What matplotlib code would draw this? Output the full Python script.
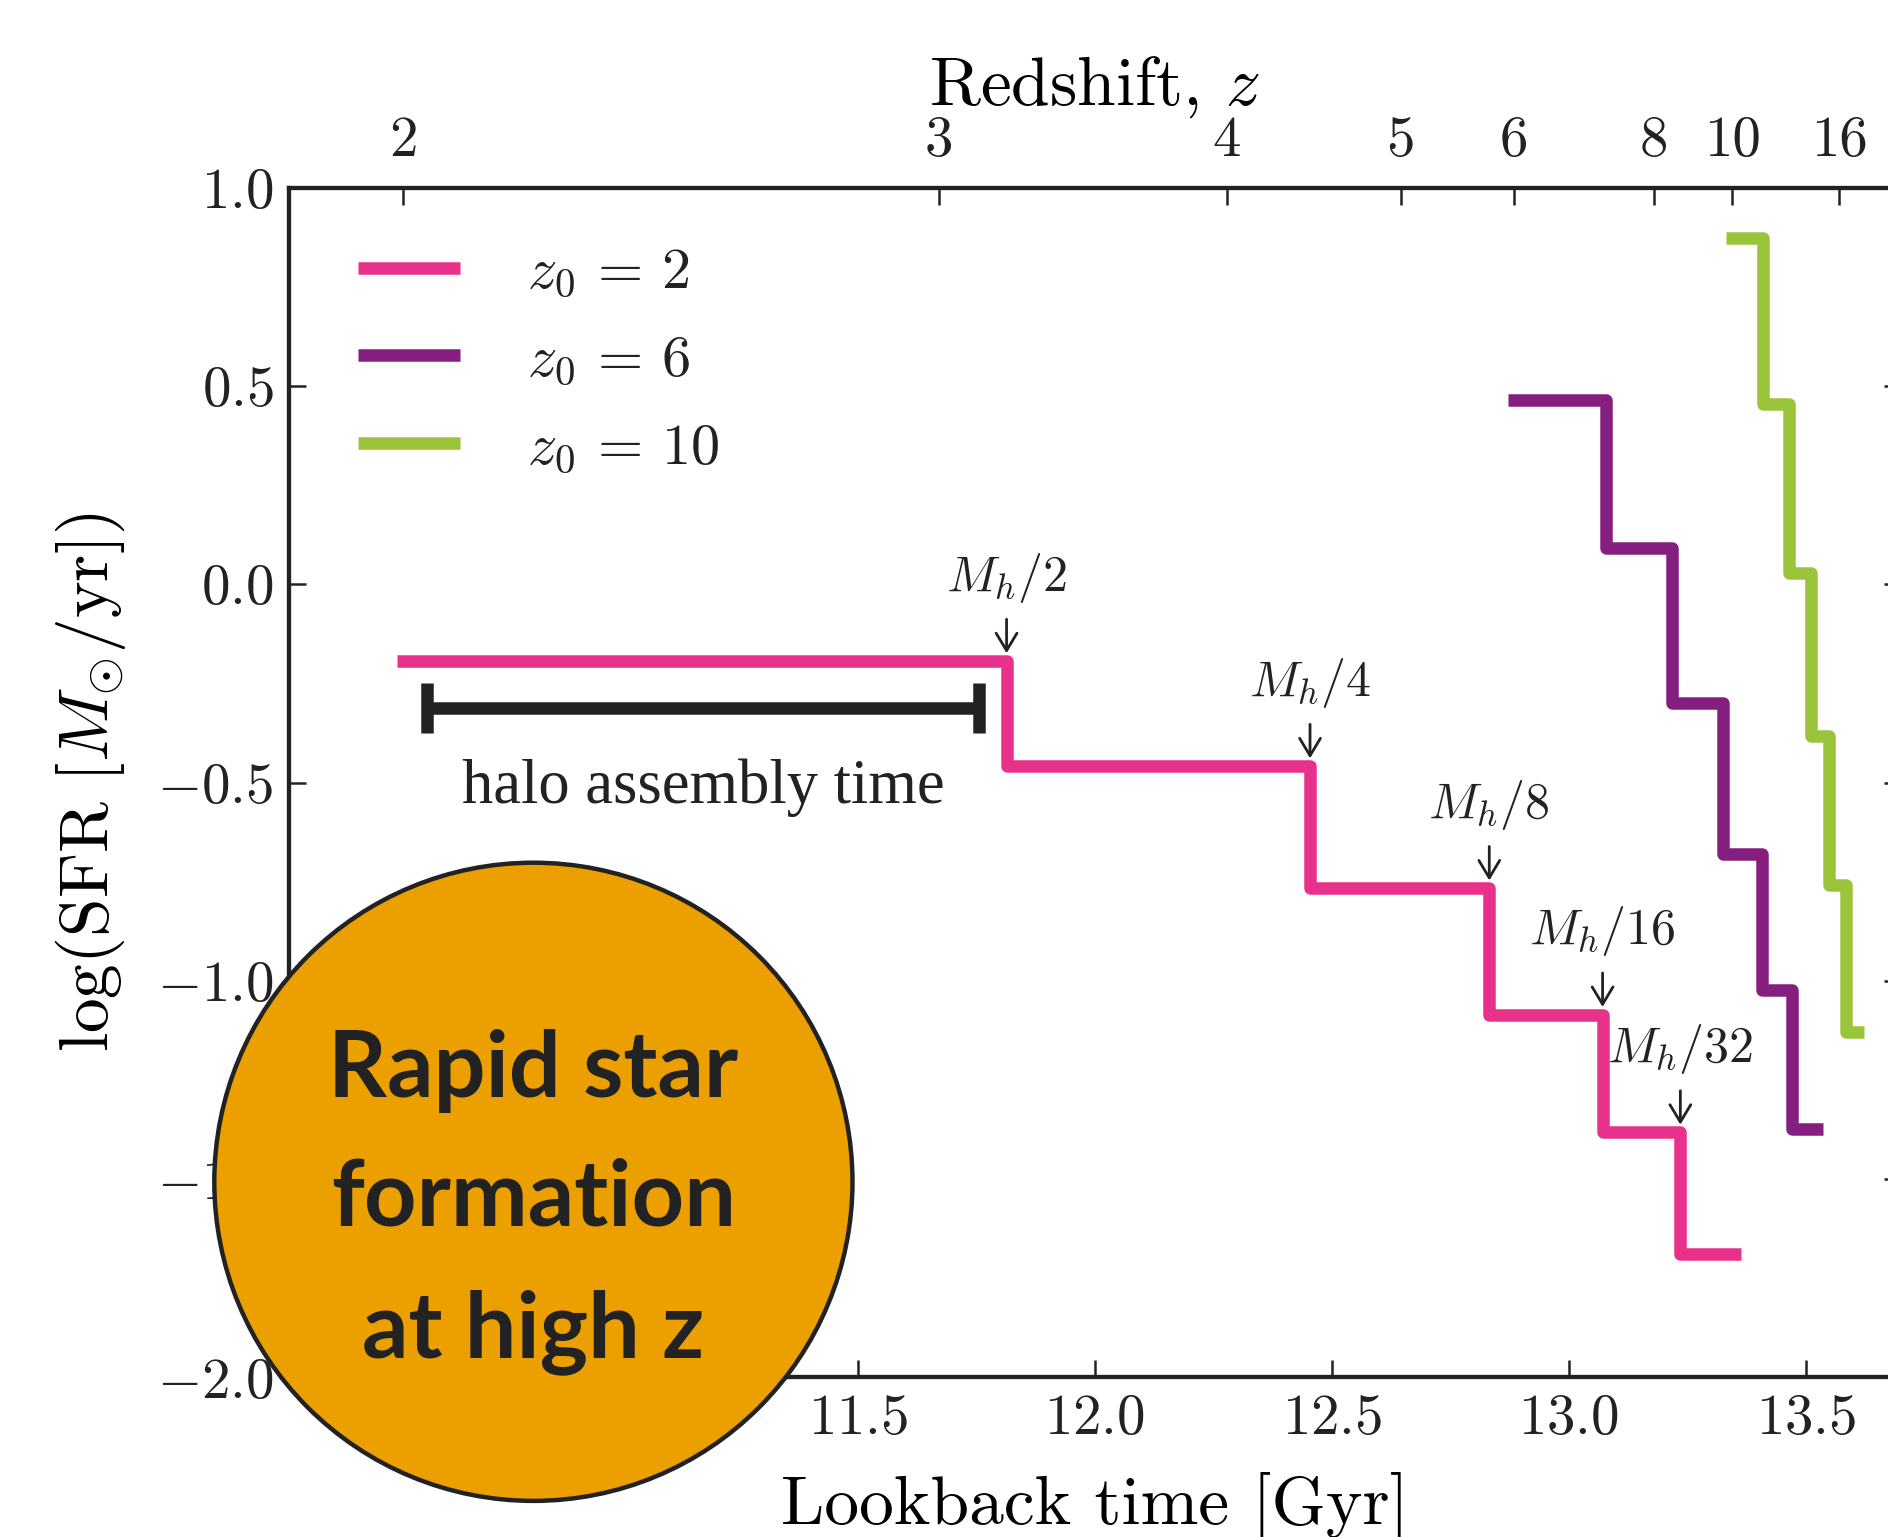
import matplotlib
matplotlib.use("Agg")
import matplotlib.pyplot as plt
from matplotlib.patches import Circle

plt.rcParams.update(
    {
        "font.family": "serif",
        "font.serif": ["cmr10"],
        "mathtext.fontset": "cm",
        "axes.formatter.use_mathtext": True,
        "axes.unicode_minus": True,
        "text.color": "#222222",
        "axes.edgecolor": "#222222",
        "xtick.color": "#222222",
        "ytick.color": "#222222",
    }
)

# step tracks: edges (lookback time, Gyr) and log SFR levels
pink_edges = [10.529, 11.814, 12.454, 12.832, 13.071, 13.235, 13.363]
pink_levels = [-0.193, -0.458, -0.766, -1.085, -1.382, -1.688]
purple_edges = [12.872, 13.078, 13.218, 13.325, 13.407, 13.471, 13.536]
purple_levels = [0.466, 0.092, -0.299, -0.681, -1.023, -1.373]
green_edges = [13.331, 13.410, 13.465, 13.511, 13.549, 13.584, 13.623]
green_levels = [0.873, 0.454, 0.029, -0.383, -0.757, -1.128]

track_labels = [r"$z_0 \,=\, 2$", r"$z_0 \,=\, 6$", r"$z_0 \,=\, 10$"]
track_colors = ["#E8318A", "#841E7F", "#9CC43B"]

# halo-mass markers on the z0=2 track
mass_labels = ["$M_h/2$", "$M_h/4$", "$M_h/8$", "$M_h/16$", "$M_h/32$"]

# halo assembly time bar
assembly_start = 10.592
assembly_end = 11.756
assembly_level = -0.312

# top axis: redshift ticks at their lookback times
redshift_labels = ["2", "3", "4", "5", "6", "8", "10", "16"]
redshift_times = [10.541, 11.672, 12.278, 12.645, 12.884, 13.179, 13.344, 13.570]

x_ticks = [10.5, 11.0, 11.5, 12.0, 12.5, 13.0, 13.5]
y_ticks = [-2.0, -1.5, -1.0, -0.5, 0.0, 0.5, 1.0]

ink = "#222222"

fig = plt.figure(figsize=(18.88, 15.37), dpi=100)
ax = fig.add_axes([0.1529, 0.1038, 0.8539, 0.774])

handles = []
for edges, levels, color, label in zip(
    (pink_edges, purple_edges, green_edges),
    (pink_levels, purple_levels, green_levels),
    track_colors,
    track_labels,
):
    (line,) = ax.plot(
        edges,
        levels + [levels[-1]],
        drawstyle="steps-post",
        color=color,
        lw=9,
        solid_joinstyle="round",
        solid_capstyle="butt",
        label=label,
    )
    handles.append(line)

for label, t, level in zip(mass_labels, pink_edges[1:], pink_levels[:-1]):
    ax.annotate(
        "",
        xy=(t, level),
        xytext=(0, 30),
        textcoords="offset points",
        arrowprops=dict(
            arrowstyle="->,head_length=0.5,head_width=0.3",
            mutation_scale=25,
            lw=2,
            color=ink,
            shrinkA=0,
            shrinkB=5.5,
        ),
    )
    ax.annotate(
        label,
        xy=(t, level),
        xytext=(0, 60),
        textcoords="offset points",
        ha="center",
        va="center",
        fontsize=36,
    )

mid = (assembly_start + assembly_end) / 2
ax.errorbar(
    [mid],
    [assembly_level],
    xerr=[[mid - assembly_start], [assembly_end - mid]],
    fmt="none",
    ecolor=ink,
    elinewidth=9,
    capsize=18,
    capthick=9,
)
ax.text(
    mid,
    -0.552,
    "halo assembly time",
    ha="center",
    va="baseline",
    fontsize=45,
    family=["Liberation Serif", "DejaVu Serif"],
)

ax.set_xlim(10.3, 13.7)
ax.set_ylim(-2.0, 1.0)
ax.set_xticks(x_ticks)
ax.set_yticks(y_ticks)
ax.tick_params(
    which="both",
    direction="in",
    length=12,
    width=1.8,
    labelsize=41,
    top=False,
    right=True,
)
ax.tick_params(axis="x", pad=12)
ax.tick_params(axis="y", pad=11)
ax.set_xlabel("Lookback time [Gyr]", fontsize=50, labelpad=19)
ax.set_ylabel(r"$\log(\mathrm{SFR}\ [M_{\odot}/\mathrm{yr}])$", fontsize=50, labelpad=21)

ax2 = ax.twiny()
ax2.set_xlim(ax.get_xlim())
ax2.set_xticks(redshift_times, redshift_labels)
ax2.tick_params(direction="in", length=12, width=1.8, labelsize=41, pad=15)
ax2.set_xlabel("Redshift, $z$", fontsize=50, labelpad=8)

for a in (ax, ax2):
    for spine in a.spines.values():
        spine.set_linewidth(3)

ax.legend(
    handles=handles,
    loc="upper left",
    bbox_to_anchor=(0.0431, 0.950),
    frameon=False,
    fontsize=42,
    handlelength=1.75,
    handletextpad=1.15,
    labelspacing=0.60,
    borderaxespad=0,
    borderpad=0,
)

circle = Circle(
    (5.334, 3.552),
    3.191,
    transform=fig.dpi_scale_trans,
    facecolor="#EBA000",
    edgecolor=ink,
    lw=3.2,
    zorder=5,
)
fig.add_artist(circle)
for text, y in zip(["Rapid star", "formation", "at high z"], [0.2865, 0.2025, 0.1171]):
    fig.text(
        0.2825,
        y,
        text,
        ha="center",
        va="baseline",
        fontsize=66,
        fontweight="bold",
        family=["Lato", "DejaVu Sans"],
        color=ink,
        zorder=6,
    )

fig.savefig("out.png", dpi=100)
